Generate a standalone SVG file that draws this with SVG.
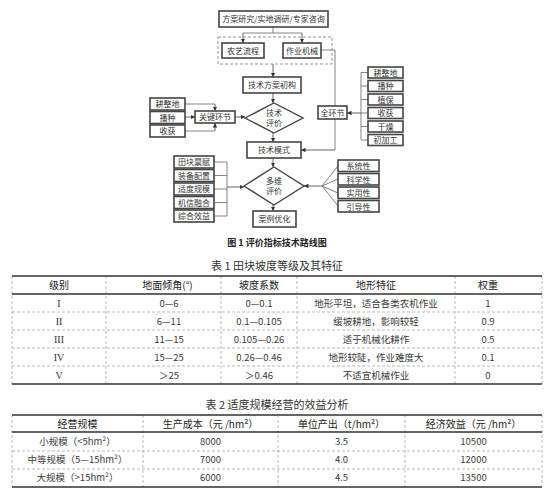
<svg xmlns="http://www.w3.org/2000/svg" width="549" height="493" viewBox="0 0 549 493">
<defs>
<marker id="ar" viewBox="0 0 6 6" refX="6" refY="3" markerWidth="5" markerHeight="5" orient="auto"><path d="M0,0 L6,3 L0,6 z" fill="#333"/></marker>
<style>
.bx{fill:#fff;stroke:#444;stroke-width:1.6}
.dm{fill:#fff;stroke:#444;stroke-width:1.4}
.ln{fill:none;stroke:#777;stroke-width:0.9}
.la{fill:none;stroke:#555;stroke-width:0.9;marker-end:url(#ar)}
.t{font-family:"Noto Sans CJK SC","Liberation Serif",serif;font-size:8px;fill:#333;text-anchor:middle}
.cap{font-family:"Noto Sans CJK SC",sans-serif;font-size:9px;fill:#222;text-anchor:middle;font-weight:bold}
.tt{font-family:"Noto Sans CJK SC",sans-serif;font-size:11px;fill:#333;text-anchor:middle}
.tc{font-family:"Noto Sans CJK SC","Liberation Sans",sans-serif;font-size:9.5px;fill:#3a3a3a;text-anchor:middle}
.th{font-family:"Noto Sans CJK SC",sans-serif;font-size:10px;fill:#222;text-anchor:middle}
.rm{font-family:"Liberation Serif",serif;font-size:10px;fill:#333;text-anchor:middle}
.solid{stroke:#333;stroke-width:1.3}
.dash{stroke:#aaa;stroke-width:0.8;stroke-dasharray:3,2}
</style>
</defs>
<g id="connectors">
<path class="ln" d="M273,27 V33 M243,33 H302"/>
<path class="la" d="M243,33 V43"/>
<path class="la" d="M302,33 V43"/>
<path class="la" d="M273,64 V77"/>
<path class="la" d="M273,93 V103"/>
<path class="la" d="M273,133 V142"/>
<path class="la" d="M273,158 V167"/>
<path class="la" d="M273,205 V211"/>
<path class="ln" d="M321,50 H335 V106"/>
<path class="ln" d="M335,119 V150"/>
<path class="la" d="M335,150 H301"/>
<path class="la" d="M185,117 H195"/>
<path class="ln" d="M185,104 H215"/>
<path class="la" d="M215,104 V111"/>
<path class="ln" d="M185,131 H215"/>
<path class="la" d="M215,131 V123"/>
<path class="la" d="M235,117 H245"/>
<path class="ln" d="M361,72.5 V139.5 M361,72.5 H368 M361,86 H368 M361,99.5 H368 M361,113 H368 M361,126.5 H368 M361,140 H368"/>
<path class="la" d="M361,113 H347"/>
<path class="ln" d="M214,162 H227 M214,175.5 H227 M214,189 H227 M214,202.5 H227 M214,216 H227 M227,162 V216"/>
<path class="la" d="M227,187 H244"/>
<path class="ln" d="M322,186 L338,166 M322,186 L338,179 M322,186 L338,193 M322,186 L338,206"/>
<path class="la" d="M322,186 H304"/>
</g>
<g id="n_top"><rect class="bx" x="219" y="11" width="109" height="16"/><text class="t" x="273.5" y="22">方案研究/实地调研/专家咨询</text></g>
<g id="n_group"><rect x="218" y="37" width="114" height="27" fill="none" stroke="#888" stroke-width="0.9" stroke-dasharray="3,2"/></g>
<g id="n_nongyi"><rect class="bx" x="222" y="43" width="42" height="15"/><text class="t" x="243" y="53.5">农艺流程</text></g>
<g id="n_zuoye"><rect class="bx" x="283" y="43" width="38" height="15"/><text class="t" x="302" y="53.5">作业机械</text></g>
<g id="n_chugou"><rect class="bx" x="243" y="77" width="58" height="16"/><text class="t" x="272" y="88">技术方案初构</text></g>
<g id="n_pingjia"><polygon class="dm" points="245,118 274,103 303,118 274,133"/><text class="t" x="274" y="116">技术</text><text class="t" x="274" y="126">评价</text></g>
<g id="n_guanjian"><rect class="bx" x="195" y="111" width="40" height="12"/><text class="t" x="215" y="120">关键环节</text></g>
<g id="n_l1"><rect class="bx" x="150" y="98" width="35" height="12"/><text class="t" x="167.5" y="107">耕整地</text></g>
<g id="n_l2"><rect class="bx" x="150" y="111.5" width="35" height="12"/><text class="t" x="167.5" y="120.5">播种</text></g>
<g id="n_l3"><rect class="bx" x="150" y="125" width="35" height="12"/><text class="t" x="167.5" y="134">收获</text></g>
<g id="n_quan"><rect class="bx" x="318" y="106" width="29" height="13"/><text class="t" x="332.5" y="115.5">全环节</text></g>
<g id="n_r1"><rect class="bx" x="368" y="67" width="35" height="11"/><text class="t" x="385.5" y="75.5">耕整地</text></g>
<g id="n_r2"><rect class="bx" x="368" y="80.5" width="35" height="11"/><text class="t" x="385.5" y="89">播种</text></g>
<g id="n_r3"><rect class="bx" x="368" y="94" width="35" height="11"/><text class="t" x="385.5" y="102.5">植保</text></g>
<g id="n_r4"><rect class="bx" x="368" y="107.5" width="35" height="11"/><text class="t" x="385.5" y="116">收获</text></g>
<g id="n_r5"><rect class="bx" x="368" y="121" width="35" height="11"/><text class="t" x="385.5" y="129.5">干燥</text></g>
<g id="n_r6"><rect class="bx" x="368" y="134.5" width="35" height="11"/><text class="t" x="385.5" y="143">初加工</text></g>
<g id="n_moshi"><rect class="bx" x="247" y="142" width="54" height="16"/><text class="t" x="274" y="153">技术模式</text></g>
<g id="n_duowei"><polygon class="dm" points="244,186 274,167 304,186 274,205"/><text class="t" x="274" y="184">多维</text><text class="t" x="274" y="194">评价</text></g>
<g id="n_m1"><rect class="bx" x="174" y="156" width="40" height="12"/><text class="t" x="194" y="165">田块禀赋</text></g>
<g id="n_m2"><rect class="bx" x="174" y="169.5" width="40" height="12"/><text class="t" x="194" y="178.5">装备配置</text></g>
<g id="n_m3"><rect class="bx" x="174" y="183" width="40" height="12"/><text class="t" x="194" y="192">适度规模</text></g>
<g id="n_m4"><rect class="bx" x="174" y="196.5" width="40" height="12"/><text class="t" x="194" y="205.5">机信融合</text></g>
<g id="n_m5"><rect class="bx" x="174" y="210" width="40" height="12"/><text class="t" x="194" y="219">综合效益</text></g>
<g id="n_s1"><rect class="bx" x="338" y="160" width="41" height="11.5"/><text class="t" x="358.5" y="169">系统性</text></g>
<g id="n_s2"><rect class="bx" x="338" y="173.5" width="41" height="11.5"/><text class="t" x="358.5" y="182.5">科学性</text></g>
<g id="n_s3"><rect class="bx" x="338" y="187" width="41" height="11.5"/><text class="t" x="358.5" y="196">实用性</text></g>
<g id="n_s4"><rect class="bx" x="338" y="200.5" width="41" height="11.5"/><text class="t" x="358.5" y="209.5">引导性</text></g>
<g id="n_anli"><rect class="bx" x="253" y="211" width="43" height="16"/><text class="t" x="274.5" y="222">案例优化</text></g>
<text class="cap" x="277" y="246">图 1 评价指标技术路线图</text>

<g id="table1">
<text class="tt" x="277" y="270">表 1 田块坡度等级及其特征</text>
<path class="dash" d="M12,276 V384 M106,276 V384 M221,276 V384 M297,276 V384 M455,276 V384 M542,276 V384 M12,312 H542 M12,330 H542 M12,348 H542 M12,366 H542"/>
<path class="solid" d="M12,276 H542 M12,294 H542 M12,384 H542"/>
<text class="th" x="59" y="289">级别</text>
<text class="th" x="167.5" y="289">地面倾角(°)</text>
<text class="th" x="259" y="289">坡度系数</text>
<text class="th" x="376" y="289">地形特征</text>
<text class="th" x="488" y="289">权重</text>
<text class="rm" x="59" y="307">I</text><text class="tc" x="169" y="307">0—6</text><text class="tc" x="259" y="307">0—0.1</text><text class="tc" x="376" y="307">地形平坦，适合各类农机作业</text><text class="tc" x="488" y="307">1</text>
<text class="rm" x="59" y="325">II</text><text class="tc" x="169" y="325">6—11</text><text class="tc" x="259" y="325">0.1—0.105</text><text class="tc" x="376" y="325">缓坡耕地，影响较轻</text><text class="tc" x="488" y="325">0.9</text>
<text class="rm" x="59" y="343">III</text><text class="tc" x="169" y="343">11—15</text><text class="tc" x="259" y="343">0.105—0.26</text><text class="tc" x="376" y="343">适于机械化耕作</text><text class="tc" x="488" y="343">0.5</text>
<text class="rm" x="59" y="361">IV</text><text class="tc" x="169" y="361">15—25</text><text class="tc" x="259" y="361">0.26—0.46</text><text class="tc" x="376" y="361">地形较陡，作业难度大</text><text class="tc" x="488" y="361">0.1</text>
<text class="rm" x="59" y="379">V</text><text class="tc" x="169" y="379">＞25</text><text class="tc" x="259" y="379">＞0.46</text><text class="tc" x="376" y="379">不适宜机械作业</text><text class="tc" x="488" y="379">0</text>
</g>

<g id="table2">
<text class="tt" x="277" y="409">表 2 适度规模经营的效益分析</text>
<path class="dash" d="M12,415 V487 M143,415 V487 M278,415 V487 M405,415 V487 M542,415 V487 M12,451 H542 M12,469 H542"/>
<path class="solid" d="M12,415 H542 M12,432 H542 M12,487 H542"/>
<text class="th" x="77.5" y="427.5">经营规模</text>
<text class="th" x="210.5" y="427.5">生产成本（元 /hm²）</text>
<text class="th" x="341.5" y="427.5">单位产出（t/hm²）</text>
<text class="th" x="473.5" y="427.5">经济效益（元 /hm²）</text>
<text class="tc" x="77.5" y="445">小规模（&lt;5hm²）</text><text class="tc" x="210.5" y="445">8000</text><text class="tc" x="341.5" y="445">3.5</text><text class="tc" x="473.5" y="445">10500</text>
<text class="tc" x="77.5" y="463">中等规模（5—15hm²）</text><text class="tc" x="210.5" y="463">7000</text><text class="tc" x="341.5" y="463">4.0</text><text class="tc" x="473.5" y="463">12000</text>
<text class="tc" x="77.5" y="481">大规模（&gt;15hm²）</text><text class="tc" x="210.5" y="481">6000</text><text class="tc" x="341.5" y="481">4.5</text><text class="tc" x="473.5" y="481">13500</text>
</g>
</svg>
